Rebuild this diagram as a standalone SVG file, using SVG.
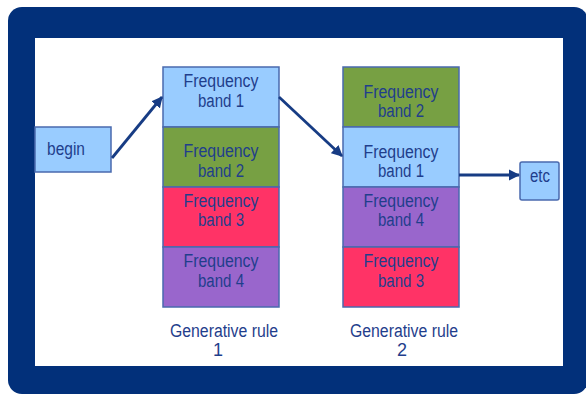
<svg xmlns="http://www.w3.org/2000/svg" width="586" height="394" viewBox="0 0 586 394">
<style>
.t{font-family:"Liberation Sans",Arial,sans-serif;font-size:18px;fill:#1F3E8C;text-anchor:middle}
.box{stroke:#4A6AAE;stroke-width:1.5}
.lb{fill:#99CCFF}.gr{fill:#77A043}.rd{fill:#FF3366}.pu{fill:#9966CC}
.c{stroke:#173C84;stroke-width:2.8;fill:none;marker-end:url(#ah)}
</style>
<defs>
<marker id="ah" viewBox="0 0 10 10" refX="9" refY="5" markerWidth="4" markerHeight="4" orient="auto" markerUnits="strokeWidth">
<path d="M0,0L10,5L0,10z" fill="#173C84"/>
</marker>
</defs>
<rect x="0" y="0" width="586" height="394" fill="#fff"/>
<g id="frame">
<rect x="8" y="7" width="580" height="387" rx="14" fill="#02307A"/>
<rect x="35" y="38" width="528" height="328" fill="#fff"/>
</g>
<g id="begin">
<rect class="box lb" x="35" y="127" width="76" height="45"/>
<text class="t" x="47" y="155" style="text-anchor:start" textLength="38" lengthAdjust="spacingAndGlyphs">begin</text>
</g>
<g id="r1b1"><rect class="box lb" x="163" y="67" width="116" height="60"/>
<text class="t" x="221" y="87" textLength="75" lengthAdjust="spacingAndGlyphs">Frequency</text><text class="t" x="221" y="107" textLength="46" lengthAdjust="spacingAndGlyphs">band 1</text></g>
<g id="r1b2"><rect class="box gr" x="163" y="127" width="116" height="60"/>
<text class="t" x="221" y="157" textLength="75" lengthAdjust="spacingAndGlyphs">Frequency</text><text class="t" x="221" y="177" textLength="46" lengthAdjust="spacingAndGlyphs">band 2</text></g>
<g id="r1b3"><rect class="box rd" x="163" y="187" width="116" height="60"/>
<text class="t" x="221" y="207" textLength="75" lengthAdjust="spacingAndGlyphs">Frequency</text><text class="t" x="221" y="226" textLength="46" lengthAdjust="spacingAndGlyphs">band 3</text></g>
<g id="r1b4"><rect class="box pu" x="163" y="247" width="116" height="60"/>
<text class="t" x="221" y="267" textLength="75" lengthAdjust="spacingAndGlyphs">Frequency</text><text class="t" x="221" y="287" textLength="46" lengthAdjust="spacingAndGlyphs">band 4</text></g>
<g id="r2b2"><rect class="box gr" x="343" y="67" width="116" height="60"/>
<text class="t" x="401" y="98" textLength="75" lengthAdjust="spacingAndGlyphs">Frequency</text><text class="t" x="401" y="117" textLength="46" lengthAdjust="spacingAndGlyphs">band 2</text></g>
<g id="r2b1"><rect class="box lb" x="343" y="127" width="116" height="60"/>
<text class="t" x="401" y="158" textLength="75" lengthAdjust="spacingAndGlyphs">Frequency</text><text class="t" x="401" y="177" textLength="46" lengthAdjust="spacingAndGlyphs">band 1</text></g>
<g id="r2b4"><rect class="box pu" x="343" y="187" width="116" height="60"/>
<text class="t" x="401" y="207" textLength="75" lengthAdjust="spacingAndGlyphs">Frequency</text><text class="t" x="401" y="226" textLength="46" lengthAdjust="spacingAndGlyphs">band 4</text></g>
<g id="r2b3"><rect class="box rd" x="343" y="247" width="116" height="60"/>
<text class="t" x="401" y="267" textLength="75" lengthAdjust="spacingAndGlyphs">Frequency</text><text class="t" x="401" y="287" textLength="46" lengthAdjust="spacingAndGlyphs">band 3</text></g>
<g id="etc"><rect class="box lb" x="520" y="162" width="39" height="38" rx="2"/>
<text class="t" x="540" y="182" textLength="20" lengthAdjust="spacingAndGlyphs">etc</text></g>
<g id="rule1"><text class="t" x="224" y="337" textLength="108" lengthAdjust="spacingAndGlyphs">Generative rule</text><text class="t" x="218" y="356">1</text></g>
<g id="rule2"><text class="t" x="404" y="337" textLength="108" lengthAdjust="spacingAndGlyphs">Generative rule</text><text class="t" x="402" y="356">2</text></g>
<g id="connectors">
<line class="c" x1="112" y1="158" x2="162" y2="97"/>
<line class="c" x1="279" y1="97" x2="342" y2="156"/>
<line class="c" x1="459" y1="175" x2="519" y2="175"/>
</g>
</svg>
